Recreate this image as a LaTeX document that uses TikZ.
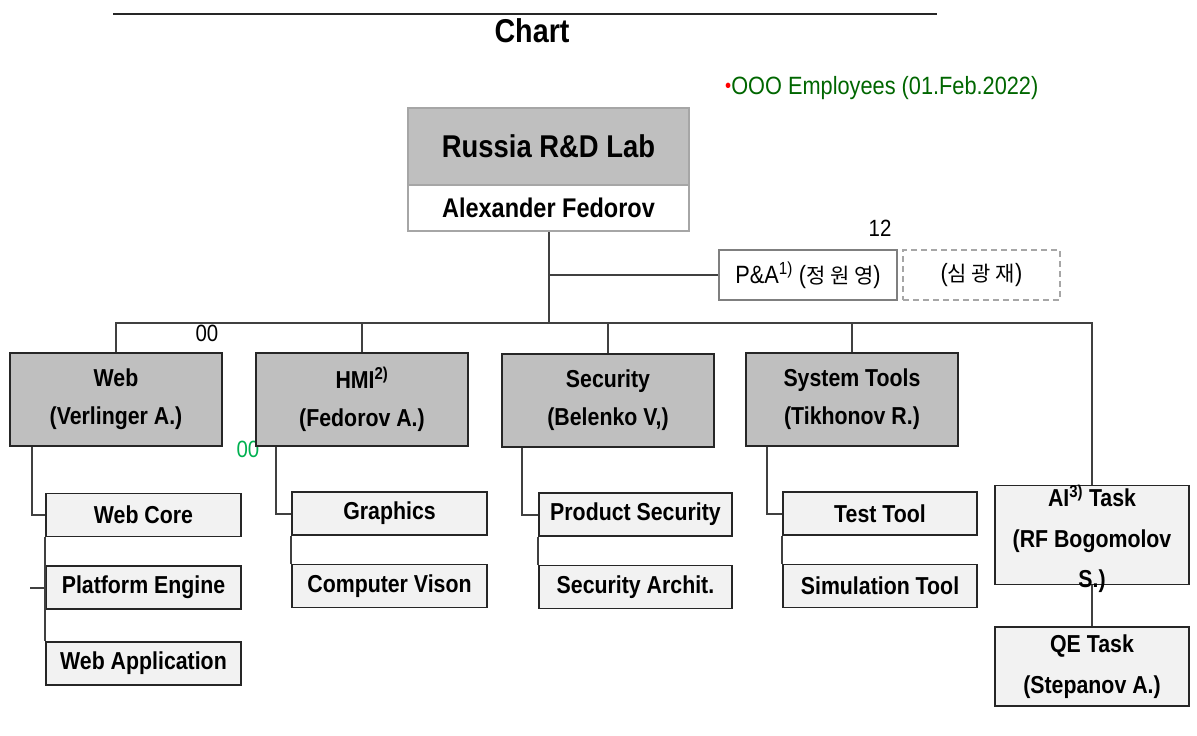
\documentclass[tikz,border=0pt]{standalone}
\usepackage{fontspec}
\setmainfont{Liberation Sans}[FakeStretch=0.87]
\newfontfamily\krfont{Noto Sans CJK KR}
\usetikzlibrary{calc}
\definecolor{hdrgray}{HTML}{BFBFBF}
\definecolor{subgray}{HTML}{F2F2F2}
\definecolor{lnc}{HTML}{404040}
\definecolor{bordc}{HTML}{262626}
\definecolor{topbord}{HTML}{A6A6A6}
\definecolor{pabord}{HTML}{7F7F7F}
\definecolor{empgreen}{HTML}{006600}
\definecolor{numgreen}{HTML}{00B050}
\tikzset{
  conn/.style={draw=lnc, line width=2pt},
  lvtwo/.style={draw=bordc, fill=hdrgray, line width=1.8pt, minimum width=212pt, minimum height=93pt,
    inner sep=0pt, align=center, font=\fontsize{24.5}{38}\selectfont\bfseries},
  subbox/.style={draw=bordc, fill=subgray, line width=1.8pt, minimum width=195pt, minimum height=43pt,
    inner sep=0pt, font=\fontsize{24.5}{28}\selectfont\bfseries},
  taskbox/.style={draw=bordc, fill=subgray, line width=1.8pt, minimum width=194pt,
    inner sep=0pt, align=center, font=\fontsize{24.5}{40.5}\selectfont\bfseries},
  plain/.style={inner sep=0pt, font=\fontsize{23.5}{26}\selectfont},
}
\begin{document}
\begin{tikzpicture}[x=1pt,y=-1pt]
\useasboundingbox (0,0) rectangle (1197,736);
% title
\coordinate (tl) at (113,14);
\coordinate (tr) at (937,14);
\draw[line width=2pt, black!85] (tl) -- (tr);
\node[inner sep=0pt, font=\fontsize{33}{34}\selectfont\bfseries] (title) at (532,31) {Chart};
\node[anchor=west, inner sep=0pt, text=empgreen, font=\fontsize{25}{27}\selectfont] (emp) at (725,88)
  {{\color{red}\fontsize{20}{20}\selectfont\raisebox{2pt}{•}}OOO Employees (01.Feb.2022)};
% top box
\node[draw=topbord, fill=hdrgray, line width=1.8pt, minimum width=281pt, minimum height=77pt, inner sep=0pt,
  font=\fontsize{31.5}{33}\selectfont\bfseries] (toph) at (548.5,146.5) {Russia R\&D Lab};
\node[draw=topbord, fill=white, line width=1.8pt, minimum width=281pt, minimum height=46pt, inner sep=0pt,
  font=\fontsize{27}{29}\selectfont\bfseries] (topw) at (548.5,208) {Alexander Fedorov};
% P&A
\node[draw=pabord, line width=1.8pt, minimum width=178pt, minimum height=50pt, inner sep=0pt,
  font=\fontsize{25}{27}\selectfont] (pa) at (808,275) {P\&A\textsuperscript{1)} ({\krfont\fontsize{21}{24}\selectfont 정 원 영})};
\node[draw=topbord, dashed, dash pattern=on 6pt off 4pt, line width=1.8pt, minimum width=157pt, minimum height=50pt,
  inner sep=0pt, font=\fontsize{25}{27}\selectfont] (sim) at (981.5,275) {({\krfont\fontsize{21}{24}\selectfont 심 광 재})};
\node[plain] (n12) at (880,228) {12};
\node[plain] (n00) at (207,333) {00};
\node[plain, text=numgreen] (g00) at (248,449) {00};
% level 2
\node[lvtwo] (web) at (116,399.5) {Web\\(Verlinger A.)};
\node[lvtwo] (hmi) at (362,399.5) {HMI\textsuperscript{2)}\\(Fedorov A.)};
\node[lvtwo] (sec) at (608,400.5) {Security\\(Belenko V,)};
\node[lvtwo] (sys) at (852,399.5) {System Tools\\(Tikhonov R.)};
% sub boxes
\node[subbox] (wc) at (143.5,515) {Web Core};
\node[subbox] (pe) at (143.5,587.5) {Platform Engine};
\node[subbox] (wa) at (143.5,663.5) {Web Application};
\node[subbox] (gr) at (389.5,513.5) {Graphics};
\node[subbox] (cv) at (389.5,586) {Computer Vison};
\node[subbox, minimum width=193pt] (ps) at (635.5,514.5) {Product Security};
\node[subbox, minimum width=193pt] (sa) at (635.5,587) {Security Archit.};
\node[subbox, minimum width=194pt] (tt) at (880,513.5) {Test Tool};
\node[subbox, minimum width=194pt] (st) at (880,586) {Simulation Tool};
% right column
\node[taskbox, minimum height=99pt] (ai) at (1092,535) {};
\node[inner sep=0pt, align=center, font=\fontsize{24.5}{40.5}\selectfont\bfseries] (aitext) at (1092,539)
  {AI\textsuperscript{3)} Task\\(RF Bogomolov\\S.)};
\node[taskbox, minimum height=79pt] (qe) at (1092,666.5) {QE Task\\(Stepanov A.)};
% connectors
\coordinate (hub) at (547,323);
\draw[conn] (topw.south) -- (topw.south |- hub);
\draw[conn] (topw.south |- pa.west) -- (pa.west);
\draw[conn] (web.north) |- (hub) -| (ai.north);
\draw[conn] (hmi.north) -- (hmi.north |- hub);
\draw[conn] (sec.north) -- (sec.north |- hub);
\draw[conn] (sys.north) -- (sys.north |- hub);
\draw[conn] ([xshift=23pt]web.south west) |- (wc.west);
\draw[conn] (wc.south west) -- (wa.north west);
\draw[conn] ([xshift=-15pt]pe.west) -- (pe.west);
\draw[conn] ([xshift=21pt]hmi.south west) |- (gr.west);
\draw[conn] (gr.south west) -- (cv.north west);
\draw[conn] ([xshift=21pt]sec.south west) |- (ps.west);
\draw[conn] (ps.south west) -- (sa.north west);
\draw[conn] ([xshift=22pt]sys.south west) |- (tt.west);
\draw[conn] (tt.south west) -- (st.north west);
\draw[conn] (ai.south) -- (qe.north);
\end{tikzpicture}
\end{document}
